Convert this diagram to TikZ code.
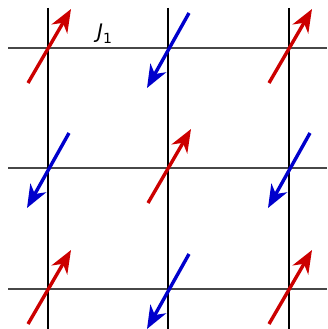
\documentclass[tikz,border=0pt]{standalone}
\usepackage{fontspec}
\newfontfamily\labfont{DejaVu Sans}
\usetikzlibrary{arrows.meta,calc}
\definecolor{spinred}{RGB}{204,0,0}
\definecolor{spinblue}{RGB}{0,0,204}
\tikzset{
  hline/.style={line width=2.6pt,draw=black!72},
  vline/.style={line width=2.2pt,draw=black},
  spin/.style={line width=3.4pt,-{Stealth[length=23pt,width=18pt,inset=7pt]}},
  upspin/.style={spin,draw=spinred,fill=spinred},
  downspin/.style={spin,draw=spinblue,fill=spinblue},
}
\begin{document}
\begin{tikzpicture}[x=1pt,y=-1pt]
\useasboundingbox (0,0) rectangle (327,329);
% grid coordinates
\foreach \i/\v in {1/48,2/168,3/289}{
  \coordinate (hl\i) at (8,\v);
  \coordinate (hr\i) at (327,\v);
  \coordinate (vt\i) at (\v,8);
  \coordinate (vb\i) at (\v,329);
}
\foreach \i in {1,2,3}{
  \draw[hline] (hl\i) -- (hr\i);
}
\foreach \i in {1,2,3}{
  \draw[vline] (vt\i) -- (vb\i);
}
% site coordinates
\foreach \r/\yy in {1/48,2/168,3/289}{
  \foreach \c/\xx in {1/48,2/168,3/289}{
    \coordinate (s\r\c) at (\xx,\yy);
  }
}
% up spins
\foreach \s in {s11,s13,s22,s31,s33}{
  \draw[upspin] ($(\s)+(-20,35)$) -- ($(\s)+(23,-39)$);
}
% down spins
\foreach \s in {s12,s21,s23,s32}{
  \draw[downspin] ($(\s)+(21,-35)$) -- ($(\s)+(-21,40)$);
}
\node[inner sep=0pt, anchor=base west] (J) at (97,39)
  {\labfont\itshape\fontsize{20}{20}\selectfont J\raisebox{-5pt}{\upshape\fontsize{14}{14}\selectfont 1}};
\end{tikzpicture}
\end{document}
